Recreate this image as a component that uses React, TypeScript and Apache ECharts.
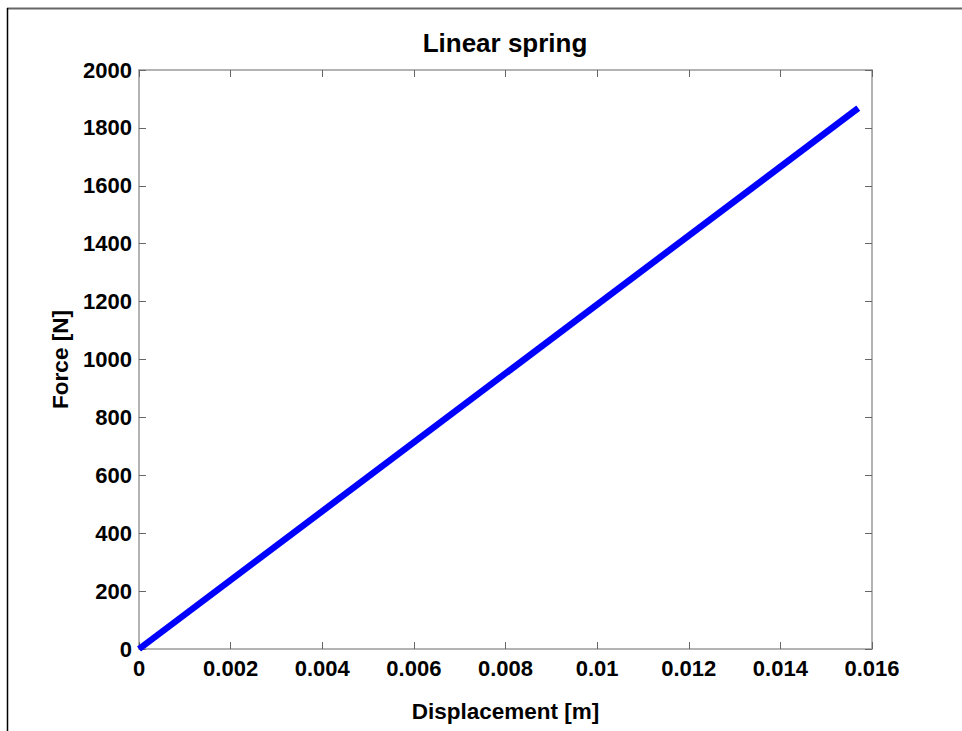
import React, { useEffect, useRef } from "react";
import * as echarts from "echarts";

// Spring response: applied displacement (m) and resulting force (N)
const displacement: number[] = [0, 0.0157];
const force: number[] = [0, 1868];

const xTicks = { min: 0, max: 0.016, interval: 0.002 };
const yTicks = { min: 0, max: 2000, interval: 200 };

const titleText = "Linear spring";
const xName = "Displacement [m]";
const yName = "Force [N]";

const FONT = "'Liberation Sans', Arial, Helvetica, sans-serif";
const AXIS_GRAY = "#9a9a9a";

const fmt = (v: number) => String(parseFloat(v.toFixed(6)));

export default function App() {
  const ref = useRef<HTMLDivElement>(null);

  useEffect(() => {
    if (!ref.current) return;
    const chart = echarts.init(ref.current, undefined, { renderer: "svg" });

    const axisCommon = {
      axisLine: { show: true, onZero: false, lineStyle: { color: AXIS_GRAY, width: 1.5 } },
      axisTick: { show: true, inside: true, length: 7, lineStyle: { color: "#666", width: 1 } },
      splitLine: { show: false },
    };

    chart.setOption({
      animation: false,
      backgroundColor: "#ffffff",
      textStyle: { fontFamily: FONT },
      title: {
        text: titleText,
        left: 500,
        top: 25,
        textAlign: "center",
        textStyle: { fontFamily: FONT, fontSize: 26, fontWeight: "bold", color: "#000" },
      },
      grid: { left: 139, top: 70, right: 90, bottom: 82 },
      xAxis: [
        {
          type: "value",
          position: "bottom",
          min: xTicks.min,
          max: xTicks.max,
          interval: xTicks.interval,
          name: xName,
          nameLocation: "middle",
          nameGap: 51,
          nameTextStyle: { fontFamily: FONT, fontSize: 22.5, fontWeight: "bold", color: "#000" },
          axisLabel: {
            margin: 8,
            fontFamily: FONT,
            fontSize: 22,
            fontWeight: "bold",
            color: "#000",
            formatter: (v: number) => fmt(v),
          },
          ...axisCommon,
        },
        {
          type: "value",
          position: "top",
          min: xTicks.min,
          max: xTicks.max,
          interval: xTicks.interval,
          axisLabel: { show: false },
          ...axisCommon,
        },
      ],
      yAxis: [
        {
          type: "value",
          position: "left",
          min: yTicks.min,
          max: yTicks.max,
          interval: yTicks.interval,
          name: yName,
          nameLocation: "middle",
          nameGap: 64,
          nameRotate: 90,
          nameTextStyle: { fontFamily: FONT, fontSize: 22.5, fontWeight: "bold", color: "#000" },
          axisLabel: {
            margin: 7,
            fontFamily: FONT,
            fontSize: 22,
            fontWeight: "bold",
            color: "#000",
            formatter: (v: number) => fmt(v),
          },
          ...axisCommon,
        },
        {
          type: "value",
          position: "right",
          min: yTicks.min,
          max: yTicks.max,
          interval: yTicks.interval,
          axisLabel: { show: false },
          ...axisCommon,
        },
      ],
      graphic: [
        {
          type: "line",
          shape: { x1: 7, y1: 8.5, x2: 962, y2: 8.5 },
          style: { stroke: "#666", lineWidth: 2 },
          silent: true,
        },
        {
          type: "line",
          shape: { x1: 7.5, y1: 8, x2: 7.5, y2: 731 },
          style: { stroke: "#000", lineWidth: 1.5 },
          silent: true,
        },
      ],
      series: [
        {
          type: "line",
          xAxisIndex: 0,
          yAxisIndex: 0,
          data: displacement.map((d, i) => [d, force[i]]),
          showSymbol: false,
          symbol: "none",
          lineStyle: { color: "#0000ff", width: 6.5, cap: "butt" },
          itemStyle: { color: "#0000ff" },
        },
      ],
    });

    return () => chart.dispose();
  }, []);

  return (
    <div
      ref={ref}
      style={{ position: "fixed", left: 0, top: 0, width: 962, height: 731, background: "#fff" }}
    />
  );
}
